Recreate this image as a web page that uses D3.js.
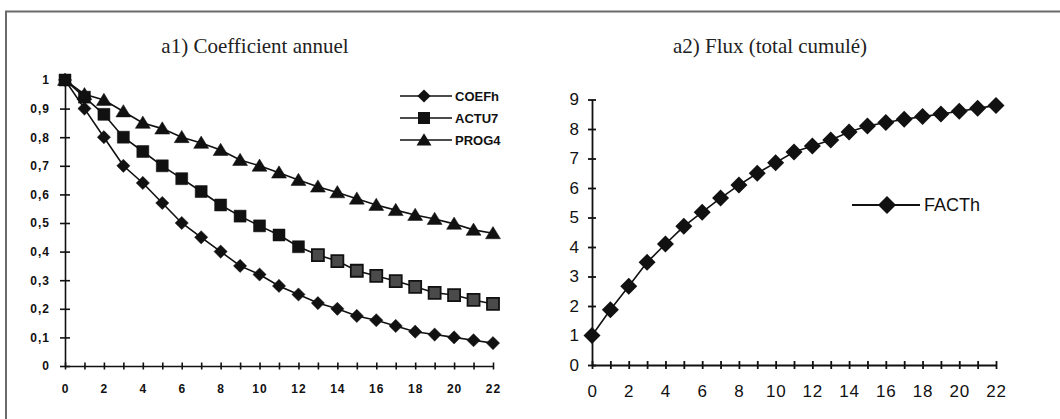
<!DOCTYPE html>
<html><head><meta charset="utf-8">
<script src="https://cdn.jsdelivr.net/npm/d3@7"></script>
<style>
html,body{margin:0;padding:0;background:#fff;}
svg{display:block;}
</style></head>
<body>
<svg id="chart" width="1060" height="419"></svg>
<script>
// ---------- data ----------
const years = d3.range(0, 23);
const coefh = [1, 0.9, 0.8, 0.7, 0.64, 0.57, 0.5, 0.45, 0.4, 0.35, 0.32, 0.28, 0.25, 0.22, 0.2, 0.175, 0.16, 0.14, 0.12, 0.11, 0.1, 0.09, 0.08];
const actu7 = [1, 0.94, 0.88, 0.8, 0.75, 0.7, 0.655, 0.61, 0.563, 0.524, 0.49, 0.458, 0.417, 0.388, 0.367, 0.333, 0.315, 0.297, 0.277, 0.256, 0.248, 0.231, 0.217];
const prog4 = [1, 0.95, 0.93, 0.89, 0.85, 0.83, 0.8, 0.78, 0.755, 0.72, 0.7, 0.676, 0.65, 0.627, 0.607, 0.585, 0.563, 0.545, 0.528, 0.514, 0.497, 0.476, 0.464];
const facth = [1, 1.87, 2.67, 3.48, 4.1, 4.7, 5.18, 5.66, 6.1, 6.5, 6.86, 7.22, 7.42, 7.63, 7.9, 8.1, 8.22, 8.33, 8.42, 8.51, 8.6, 8.7, 8.8];
const leftYTicks = [0, 0.1, 0.2, 0.3, 0.4, 0.5, 0.6, 0.7, 0.8, 0.9, 1];
const leftYLabels = ["0", "0,1", "0,2", "0,3", "0,4", "0,5", "0,6", "0,7", "0,8", "0,9", "1"];
const rightYTicks = [0, 1, 2, 3, 4, 5, 6, 7, 8, 9];
const xLabelTicks = [0, 2, 4, 6, 8, 10, 12, 14, 16, 18, 20, 22];
const titles = ["a1) Coefficient annuel", "a2) Flux (total cumulé)"];
const leftSeriesNames = ["COEFh", "ACTU7", "PROG4"];
const rightSeriesNames = ["FACTh"];

// ---------- setup ----------
const svg = d3.select("#chart");
const sans = "'Liberation Sans', Arial, sans-serif";
const serif = "'Liberation Serif', 'DejaVu Serif', serif";

// frame (left + top only)
svg.append("path").attr("d", d3.line()([[6, 419], [6, 11.5], [1060, 11.5]]))
  .attr("fill", "none").attr("stroke", "#6a6a6a").attr("stroke-width", 2);

// titles
svg.append("text").attr("x", 255).attr("y", 53).attr("text-anchor", "middle")
  .attr("font-family", serif).attr("font-size", 21).attr("fill", "#222").text(titles[0]);
svg.append("text").attr("x", 770).attr("y", 53).attr("text-anchor", "middle")
  .attr("font-family", serif).attr("font-size", 21).attr("fill", "#222").text(titles[1]);

// symbols
function diamondPath(r) { return `M0,${-r}L${r},0L0,${r}L${-r},0Z`; }
function squarePath(r) { return `M${-r},${-r}H${r}V${r}H${-r}Z`; }
function trianglePath(r) { return `M0,${-r}L${r * 1.1},${r * 0.8}L${-r * 1.1},${r * 0.8}Z`; }

// ---------- left chart ----------
const xL = d3.scaleLinear().domain([0, 22]).range([65, 493]);
const yL = d3.scaleLinear().domain([0, 1]).range([366, 80]);
const gL = svg.append("g");

const xAxisL = d3.axisBottom(xL).tickValues(years)
  .tickFormat(d => xLabelTicks.includes(d) ? String(d) : "").tickSize(0).tickPadding(18);
const gxL = gL.append("g").attr("transform", `translate(0,${yL(0)})`).call(xAxisL);
gxL.select(".domain").attr("stroke", "#111").attr("stroke-width", 1.6);
gxL.selectAll(".tick line").attr("y1", -3.5).attr("y2", 3.5).attr("stroke", "#111").attr("stroke-width", 1.6);
gxL.selectAll(".tick text").attr("font-family", sans).attr("font-weight", "bold")
  .attr("font-size", 12).attr("letter-spacing", 1).attr("fill", "#111");

const yAxisL = d3.axisLeft(yL).tickValues(leftYTicks)
  .tickFormat((d, i) => leftYLabels[i]).tickSize(0).tickPadding(15);
const gyL = gL.append("g").attr("transform", `translate(${xL(0)},0)`).call(yAxisL);
gyL.select(".domain").attr("stroke", "#111").attr("stroke-width", 1.6);
gyL.selectAll(".tick line").attr("x1", -5).attr("x2", 5).attr("stroke", "#111").attr("stroke-width", 1.6);
gyL.selectAll(".tick text").attr("font-family", sans).attr("font-weight", "bold")
  .attr("font-size", 12).attr("letter-spacing", 1).attr("fill", "#111");

const lineL = d3.line().x((d, i) => xL(years[i])).y(d => yL(d));
const leftSeries = [
  { name: leftSeriesNames[0], values: coefh, shape: diamondPath(6.6) },
  { name: leftSeriesNames[1], values: actu7, shape: squarePath(6) },
  { name: leftSeriesNames[2], values: prog4, shape: trianglePath(6.8) }
];
leftSeries.forEach(s => {
  gL.append("path").attr("d", lineL(s.values)).attr("fill", "none")
    .attr("stroke", "#111").attr("stroke-width", 1.6);
});
leftSeries.forEach((s, k) => {
  gL.selectAll(null).data(s.values).enter().append("path")
    .attr("transform", (d, i) => `translate(${xL(years[i])},${yL(d)})`)
    .attr("d", s.shape)
    .attr("fill", (d, i) => (k === 1 && i >= 13) ? "#4a4a4a" : "#111")
    .attr("stroke", "#111")
    .attr("stroke-width", (d, i) => (k === 1 && i >= 13) ? 1.8 : 0.5);
});

// left legend
const legL = gL.append("g");
leftSeries.forEach((s, k) => {
  const y = 96 + k * 22;
  legL.append("line").attr("x1", 400).attr("x2", 452).attr("y1", y).attr("y2", y)
    .attr("stroke", "#111").attr("stroke-width", 1.6);
  legL.append("path").attr("transform", `translate(424,${y})`).attr("d", s.shape).attr("fill", "#111");
  legL.append("text").attr("x", 455).attr("y", y).attr("dy", "0.35em")
    .attr("font-family", sans).attr("font-weight", "bold").attr("font-size", 13)
    .attr("fill", "#111").text(s.name);
});

// ---------- right chart ----------
const xR = d3.scaleLinear().domain([0, 22]).range([592, 996]);
const yR = d3.scaleLinear().domain([0, 9]).range([365, 99.5]);
const gR = svg.append("g");

const xAxisR = d3.axisBottom(xR).tickValues(years)
  .tickFormat(d => xLabelTicks.includes(d) ? String(d) : "").tickSize(0).tickPadding(20);
const gxR = gR.append("g").attr("transform", `translate(0,${yR(0)})`).call(xAxisR);
gxR.select(".domain").attr("stroke", "#111").attr("stroke-width", 1.8);
gxR.selectAll(".tick line").attr("y1", -4).attr("y2", 4).attr("stroke", "#111").attr("stroke-width", 1.8);
gxR.selectAll(".tick text").attr("font-family", sans).attr("font-size", 17)
  .attr("letter-spacing", 0.8).attr("fill", "#111");

const yAxisR = d3.axisLeft(yR).tickValues(rightYTicks).tickSize(0).tickPadding(13);
const gyR = gR.append("g").attr("transform", `translate(${xR(0)},0)`).call(yAxisR);
gyR.select(".domain").attr("stroke", "#111").attr("stroke-width", 1.8);
gyR.selectAll(".tick line").attr("x1", -4).attr("x2", 4).attr("stroke", "#111").attr("stroke-width", 1.8);
gyR.selectAll(".tick text").attr("font-family", sans).attr("font-size", 17).attr("fill", "#111");

const lineR = d3.line().x((d, i) => xR(years[i])).y(d => yR(d));
gR.append("path").attr("d", lineR(facth)).attr("fill", "none")
  .attr("stroke", "#111").attr("stroke-width", 1.6);
gR.selectAll(null).data(facth).enter().append("path")
  .attr("transform", (d, i) => `translate(${xR(years[i])},${yR(d)})`)
  .attr("d", diamondPath(8.5)).attr("fill", "#111");

// right legend
const legR = gR.append("g");
legR.append("line").attr("x1", 852).attr("x2", 920).attr("y1", 205).attr("y2", 205)
  .attr("stroke", "#111").attr("stroke-width", 1.8);
legR.append("path").attr("transform", "translate(887,205)").attr("d", diamondPath(9)).attr("fill", "#111");
legR.append("text").attr("x", 924).attr("y", 205).attr("dy", "0.36em")
  .attr("font-family", sans).attr("font-size", 18).attr("fill", "#111").text(rightSeriesNames[0]);
</script>
</body></html>
